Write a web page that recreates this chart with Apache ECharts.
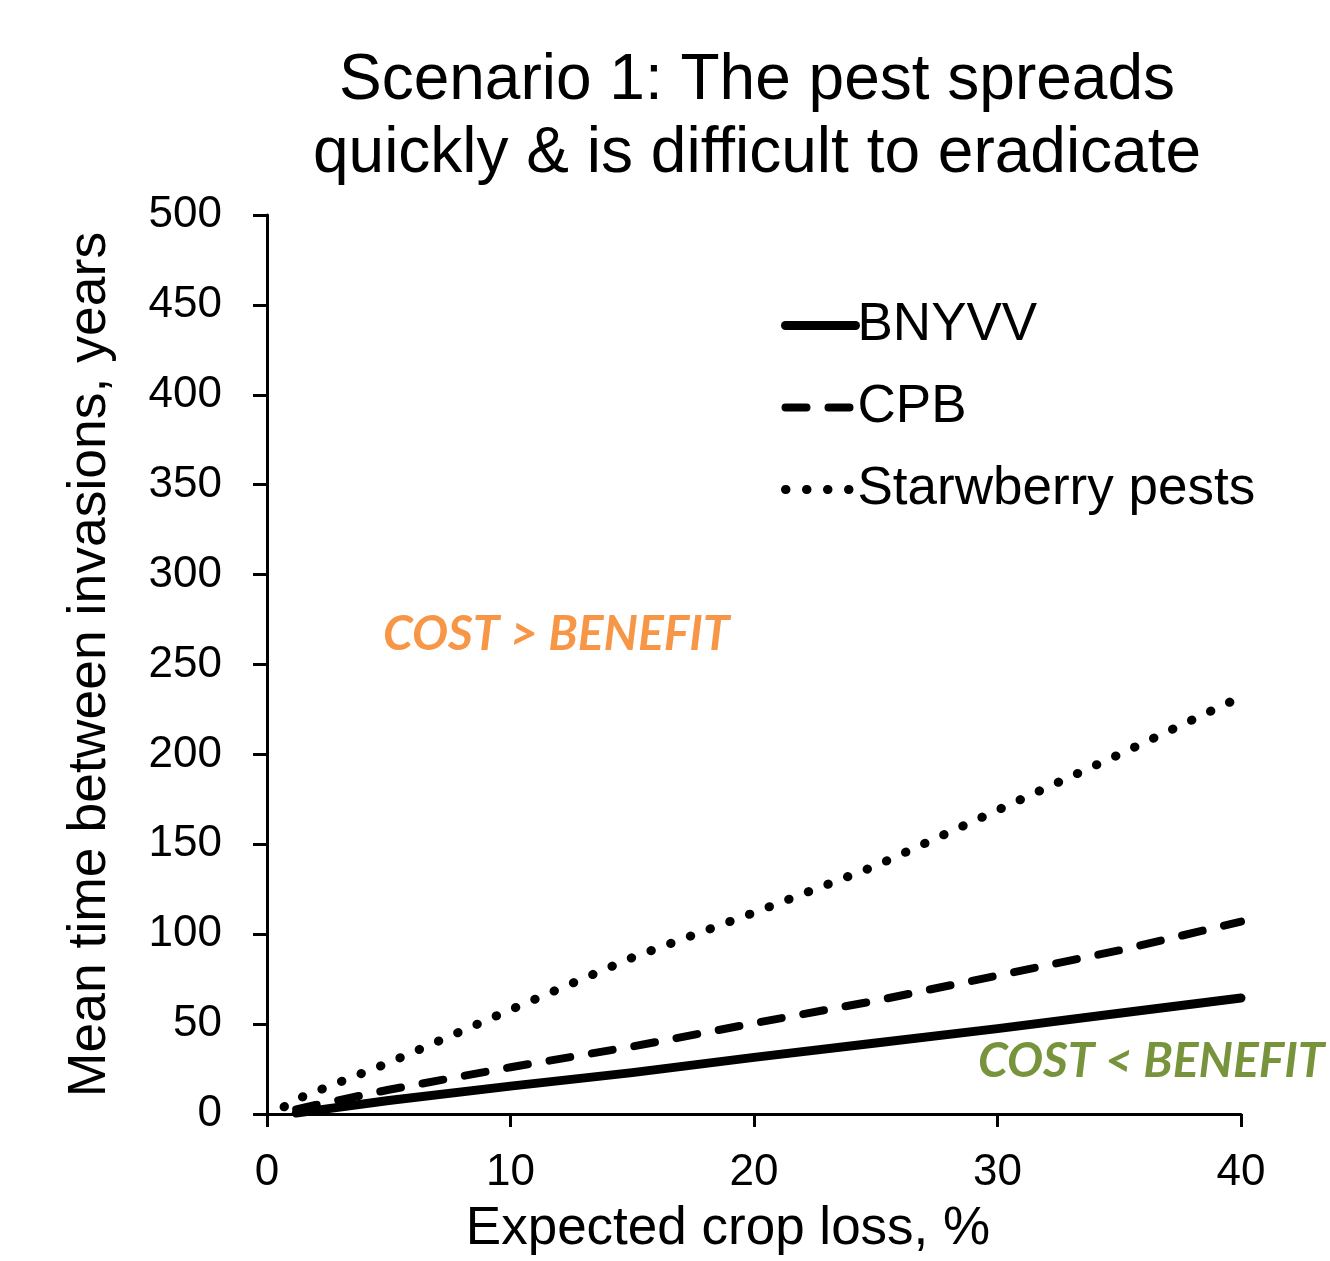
<!DOCTYPE html>
<html>
<head>
<meta charset="utf-8">
<script src="https://cdn.jsdelivr.net/npm/echarts@6/dist/echarts.min.js"></script>
<style>html,body{margin:0;padding:0;background:#fff;overflow:hidden}#c{width:1330px;height:1261px}</style>
</head>
<body>
<div id="c"></div>
<script>
// Data
var bnyvvX = [1.2, 2, 5, 10, 15, 20, 25, 30, 35, 40];
var bnyvvY = [0.5, 2, 7.5, 15.5, 23, 31.5, 39.5, 47.5, 56, 64.5];
var cpbX = [1.2, 2, 5, 10, 15, 20, 25, 30, 35, 40];
var cpbY = [2.5, 5, 13.5, 26, 37.5, 50.5, 63, 77, 91, 107];
var strawX = [0.7, 1, 2, 5, 10, 15, 20, 25, 30, 35, 40];
var strawY = [4, 7, 12.5, 28.5, 58, 87, 112, 138, 169, 200, 232];
var seriesNames = ['BNYVV', 'CPB', 'Starwberry pests'];

function pairs(xs, ys) { return xs.map(function (x, i) { return [x, ys[i]]; }); }

var FONT = '"Liberation Sans", Arial, sans-serif';
var solidStyle = {color: '#000', width: 9, type: 'solid', cap: 'round', join: 'round'};
var dashStyle = {color: '#000', width: 8, type: [21, 22], cap: 'round', join: 'round'};
var dotStyle = {color: '#000', width: 9, type: [0.5, 20.5], cap: 'round', join: 'round'};

var chart = echarts.init(document.getElementById('c'), null, {renderer: 'canvas', width: 1330, height: 1261});
chart.setOption({
  animation: false,
  backgroundColor: '#ffffff',
  title: {
    text: 'Scenario 1: The pest spreads\nquickly & is difficult to eradicate',
    left: 752, top: 40, textAlign: 'center',
    textStyle: {fontFamily: FONT, fontSize: 64, fontWeight: 'normal', color: '#000', lineHeight: 73}
  },
  grid: {left: 267, top: 215, width: 974, height: 905, containLabel: false},
  legend: {
    orient: 'vertical', left: 781, top: 299, padding: 0,
    itemWidth: 70, itemHeight: 40, itemGap: 29,
    itemStyle: {color: 'rgba(0,0,0,0)', borderWidth: 0, opacity: 0},
    textStyle: {fontFamily: FONT, fontSize: 53, color: '#000', padding: [0, 0, 0, -3]},
    data: [
      {name: seriesNames[0], lineStyle: solidStyle},
      {name: seriesNames[1], lineStyle: dashStyle},
      {name: seriesNames[2], lineStyle: dotStyle}
    ]
  },
  xAxis: {
    type: 'value', min: 0, max: 40, interval: 10,
    name: 'Expected crop loss, %', nameLocation: 'middle', nameGap: 89,
    nameTextStyle: {fontFamily: FONT, fontSize: 53, color: '#000', padding: [0, 52, 0, 0]},
    axisLine: {show: true, lineStyle: {color: '#000', width: 3}},
    axisTick: {show: true, inside: false, length: 13, lineStyle: {color: '#000', width: 3}},
    axisLabel: {fontFamily: FONT, fontSize: 44, color: '#000', margin: 37},
    splitLine: {show: false}
  },
  yAxis: {
    type: 'value', min: 0, max: 500, interval: 50,
    name: 'Mean time between invasions, years', nameLocation: 'middle', nameGap: 150,
    nameTextStyle: {fontFamily: FONT, fontSize: 53.5, color: '#000'},
    axisLine: {show: true, lineStyle: {color: '#000', width: 3}},
    axisTick: {show: true, inside: false, length: 14, lineStyle: {color: '#000', width: 3}},
    axisLabel: {fontFamily: FONT, fontSize: 44, color: '#000', margin: 45},
    splitLine: {show: false}
  },
  graphic: [
    {type: 'text', x: 383, y: 635,
      style: {text: 'COST > BENEFIT', fill: '#F79646', verticalAlign: 'middle',
        font: 'italic bold 48px Lato, "Open Sans", sans-serif'}},
    {type: 'text', x: 978, y: 1062,
      style: {text: 'COST < BENEFIT', fill: '#77933C', verticalAlign: 'middle',
        font: 'italic bold 48px Lato, "Open Sans", sans-serif'}}
  ],
  series: [
    {name: seriesNames[0], type: 'line', data: pairs(bnyvvX, bnyvvY), symbol: 'none',
      lineStyle: solidStyle, itemStyle: {color: '#000'}},
    {name: seriesNames[1], type: 'line', data: pairs(cpbX, cpbY), symbol: 'none',
      lineStyle: dashStyle, itemStyle: {color: '#000'}},
    {name: seriesNames[2], type: 'line', data: pairs(strawX, strawY), symbol: 'none',
      lineStyle: dotStyle, itemStyle: {color: '#000'}}
  ]
});
</script>
</body>
</html>
